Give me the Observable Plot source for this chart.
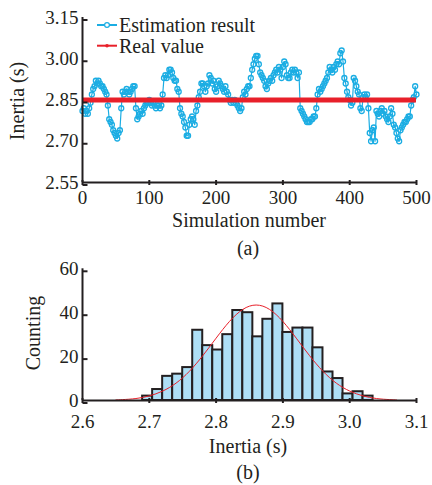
<!DOCTYPE html>
<html><head><meta charset="utf-8">
<script src="https://cdn.jsdelivr.net/npm/d3@7"></script>
<script src="https://cdn.jsdelivr.net/npm/@observablehq/plot@0.6"></script>
<style>
body{margin:0;background:#fff;}
#wrap{position:relative;width:432px;height:485px;overflow:hidden;color:#231F20;}
#wrap, #wrap *, #wrap svg text{font-family:"Liberation Serif","Times New Roman",serif !important;}
#wrap svg{position:absolute;left:0;}
.lbl{position:absolute;font-size:20px;line-height:20px;white-space:nowrap;}
.rot{transform:translate(-50%,-50%) rotate(-90deg);}
.ctr{transform:translateX(-50%);}
</style></head><body>
<div id="wrap"></div>
<script>
// ---- (a) estimation results, every 2nd simulation ----
const simStep = 2;
const estimates = [
2.81,2.82,2.80,2.81,2.80, 2.82,2.84,2.87,2.89,2.90,
2.92,2.91,2.92,2.91,2.90, 2.90,2.89,2.88,2.87,2.83,
2.78,2.77,2.76,2.74,2.73, 2.72,2.71,2.73,2.74,2.82,
2.88,2.87,2.88,2.89,2.88, 2.87,2.88,2.89,2.90,2.90,
2.82,2.78,2.79,2.80,2.81, 2.80,2.82,2.83,2.84,2.84,
2.85,2.84,2.83,2.84,2.83, 2.82,2.83,2.83,2.82,2.83,
2.87,2.93,2.94,2.93,2.94, 2.96,2.96,2.95,2.93,2.92,
2.92,2.89,2.88,2.82,2.80, 2.79,2.77,2.75,2.72,2.72,
2.76,2.78,2.79,2.78,2.76, 2.81,2.83,2.86,2.88,2.91,
2.91,2.90,2.88,2.90,2.91, 2.94,2.93,2.91,2.92,2.89,
2.88,2.90,2.92,2.91,2.90, 2.89,2.88,2.90,2.88,2.87,
2.85,2.84,2.85,2.84,2.85, 2.84,2.83,2.82,2.81,2.82,
2.86,2.88,2.87,2.89,2.90, 2.90,2.93,2.96,2.98,3.00,
3.01,3.01,2.98,2.95,2.94, 2.93,2.92,2.90,2.89,2.91,
2.92,2.93,2.92,2.94,2.95, 2.96,2.95,2.97,2.96,2.93,
2.97,2.99,2.98,2.94,2.93, 2.93,2.95,2.96,2.95,2.96,
2.95,2.93,2.95,2.82,2.81, 2.80,2.79,2.78,2.77,2.77,
2.77,2.78,2.78,2.79,2.79, 2.82,2.87,2.89,2.88,2.89,
2.90,2.91,2.92,2.93,2.95, 2.97,2.96,2.95,2.97,2.96,
2.98,2.99,2.98,3.02,3.03, 2.99,2.93,2.91,2.88,2.86,
2.85,2.83,2.84,2.93,2.92, 2.90,2.88,2.87,2.82,2.81,
2.86,2.87,2.86,2.87,2.82, 2.73,2.70,2.74,2.75,2.70,
2.81,2.80,2.79,2.81,2.82, 2.80,2.81,2.79,2.78,2.77,
2.79,2.82,2.80,2.76,2.75, 2.73,2.71,2.70,2.74,2.75,
2.76,2.77,2.77,2.78,2.79, 2.79,2.83,2.85,2.86,2.90,
2.87];
const realValue = 2.85;
const simRange = [0, 500];
const inertiaRangeA = [2.55, 3.15];
const xTicksA = [0, 100, 200, 300, 400, 500];
const yTicksA = [2.55, 2.70, 2.85, 3.00, 3.15];

// ---- (b) histogram ----
const binEdges = [2.690,2.705,2.720,2.735,2.750,2.765,2.780,2.795,2.810,2.825,2.840,2.855,
                  2.870,2.885,2.900,2.915,2.930,2.945,2.960,2.975,2.990,3.005,3.020,3.035];
const counts = [2,5,11,12,15,32,25,23,30,41,40,29,37,44,31,33,33,24,13,10,3,4,2];
const fitX = [2.65,2.66,2.68,2.70,2.72,2.74,2.76,2.78,2.80,2.82,2.84,2.86,2.88,2.90,2.92,2.94,2.96,2.98,3.00,3.02,3.04,3.06,3.07];
const fitY = [0.25,0.4,0.9,2.1,4.3,7.9,13.3,20.4,28.4,36.0,41.5,43.5,41.5,36.0,28.4,20.4,13.3,7.9,4.3,2.1,0.9,0.4,0.25];
const inertiaRangeB = [2.6, 3.1];
const countRange = [0, 60];
const xTicksB = [2.6, 2.7, 2.8, 2.9, 3.0, 3.1];
const yTicksB = [0, 20, 40, 60];

const blue = "#1BADE3", red = "#E8202A", ink = "#231F20", barFill = "#AEDFF6";
const tickRight = {draw(ctx, l){ ctx.moveTo(0,0); ctx.lineTo(l,0); }};
const tickUp = {draw(ctx, l){ ctx.moveTo(0,0); ctx.lineTo(0,-l); }};
const serif = "'Liberation Serif', 'Times New Roman', serif";
const baseStyle = {background:"transparent", fontFamily:serif, fontSize:"19px", color:ink, overflow:"visible"};

const est = estimates.map((v,i)=>({sim:i*simStep, v}));

const plotA = Plot.plot({
  width:432, height:240, marginTop:17, marginBottom:58, marginLeft:82, marginRight:16,
  style: baseStyle,
  x:{domain:simRange}, y:{domain:inertiaRangeA},
  marks:[
    Plot.line(est,{x:"sim", y:"v", stroke:blue, strokeWidth:1.2}),
    Plot.dot(est,{x:"sim", y:"v", r:2.5, stroke:blue, strokeWidth:1.3, fill:"none"}),
    Plot.ruleY([realValue],{x1:simRange[0], x2:simRange[1], stroke:red, strokeWidth:5}),
    Plot.ruleX([simRange[0]],{stroke:ink, strokeWidth:2}),
    Plot.ruleY([inertiaRangeA[0]],{stroke:ink, strokeWidth:2}),
    Plot.vector(yTicksA,{x:simRange[0], y:d=>d, length:5, shape:tickRight, stroke:ink, strokeWidth:2, strokeLinecap:"butt"}),
    Plot.vector(xTicksA,{x:d=>d, y:inertiaRangeA[0], length:5, shape:tickUp, stroke:ink, strokeWidth:2, strokeLinecap:"butt"}),
    Plot.axisY(yTicksA,{tickSize:0, tickPadding:4, tickFormat:d3.format(".2f"), label:null, fontFamily:serif}),
    Plot.axisX(xTicksA,{tickSize:0, tickPadding:8, label:null, fontFamily:serif})
  ]
});
plotA.style.top = "0px";

const plotB = Plot.plot({
  width:432, height:230, marginTop:13.3, marginBottom:85, marginLeft:82, marginRight:16,
  style: baseStyle,
  x:{domain:inertiaRangeB}, y:{domain:countRange},
  marks:[
    Plot.rect(counts,{x1:(d,i)=>binEdges[i], x2:(d,i)=>binEdges[i+1], y1:0, y2:d=>d, fill:barFill, stroke:ink, strokeWidth:2}),
    Plot.line(fitX.map((x,i)=>({x, y:fitY[i]})),{x:"x", y:"y", stroke:red, strokeWidth:1, curve:"natural"}),
    Plot.ruleX([inertiaRangeB[0]],{stroke:ink, strokeWidth:2}),
    Plot.ruleY([countRange[0]],{stroke:ink, strokeWidth:2}),
    Plot.vector(yTicksB,{x:inertiaRangeB[0], y:d=>d, length:5, shape:tickRight, stroke:ink, strokeWidth:2, strokeLinecap:"butt"}),
    Plot.vector(xTicksB,{x:d=>d, y:countRange[0], length:5, shape:tickUp, stroke:ink, strokeWidth:2, strokeLinecap:"butt"}),
    Plot.axisY(yTicksB,{tickSize:0, tickPadding:4, label:null, fontFamily:serif}),
    Plot.axisX(xTicksB,{tickSize:0, tickPadding:14, tickFormat:d3.format(".1f"), label:null, fontFamily:serif})
  ]
});
plotB.style.top = "255px";

const wrap = document.getElementById("wrap");
wrap.appendChild(plotA);
wrap.appendChild(plotB);

function label(text, x, y, cls){
  const d = document.createElement("div");
  d.className = "lbl " + cls;
  d.textContent = text;
  d.style.left = x + "px"; d.style.top = y + "px";
  wrap.appendChild(d);
  return d;
}
label("Inertia (s)", 17, 101, "rot");
label("Simulation number", 249, 210, "ctr");
label("(a)", 248, 238, "ctr");
label("Counting", 33, 333, "rot");
label("Inertia (s)", 248, 436, "ctr");
label("(b)", 248, 462, "ctr");

// legend
const leg = document.createElement("div");
leg.style.cssText = "position:absolute;left:96px;top:15px;";
leg.innerHTML =
 `<svg width="24" height="50" style="position:absolute;left:0;top:0;overflow:visible">
   <line x1="1" x2="21" y1="10" y2="10" stroke="${blue}" stroke-width="2"/>
   <circle cx="11" cy="10" r="2.4" fill="white" stroke="${blue}" stroke-width="1.2"/>
   <line x1="1" x2="21" y1="30.7" y2="30.7" stroke="${red}" stroke-width="2"/>
   <circle cx="11" cy="30.7" r="1.8" fill="${red}"/>
  </svg>
  <div class="lbl" style="left:23px;top:0px">Estimation result</div>
  <div class="lbl" style="left:23px;top:21px">Real value</div>`;
wrap.appendChild(leg);
</script>
</body></html>
